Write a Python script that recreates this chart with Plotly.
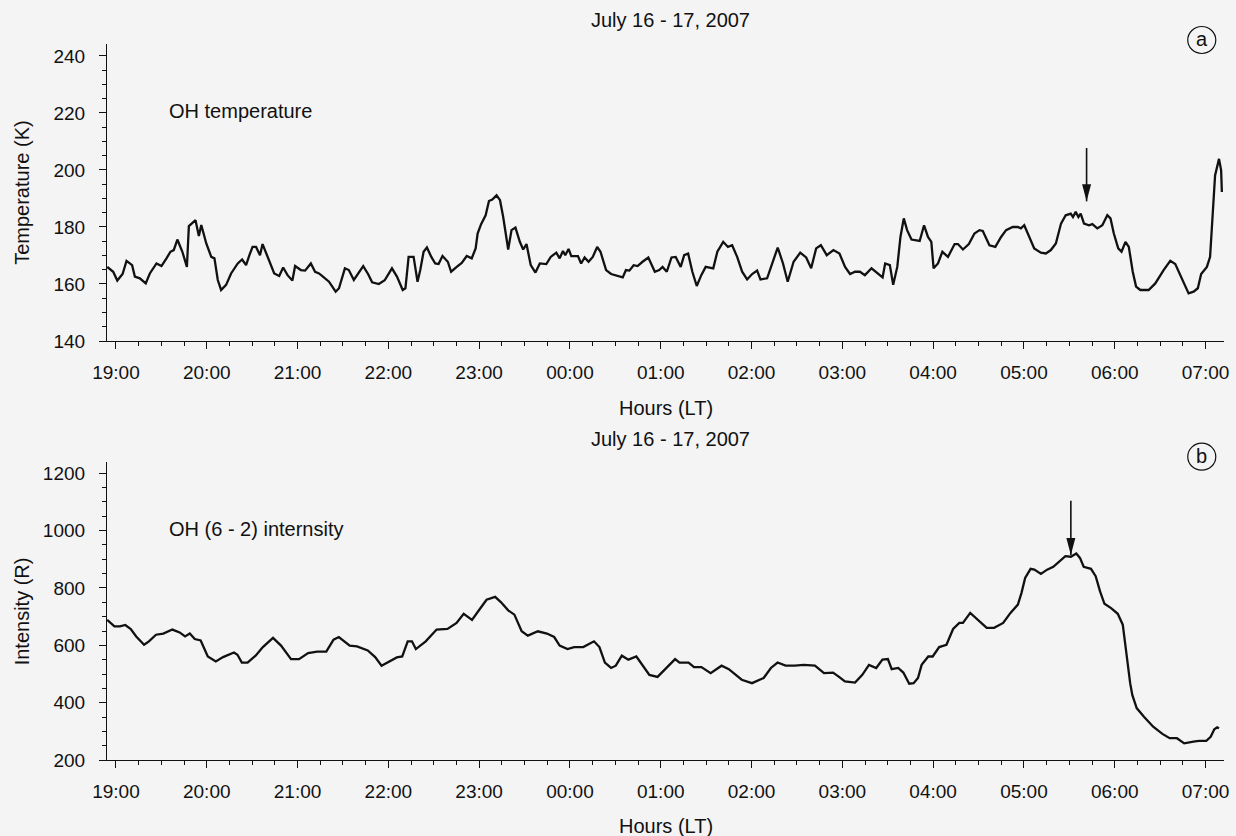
import pandas as pd
import plotly.graph_objects as go

# time axis: minutes after 19:00 LT on July 16, 2007
start = pd.Timestamp("2007-07-16 19:00")

# (a) OH rotational temperature, K
temp_minutes = [
    -5.7, -1.8, 0.9, 4.4, 7.0, 10.7, 12.5, 15.8, 19.7, 22.4, 26.8, 30.1, 33.4, 36.0, 38.2,
    40.6, 43.9, 46.9, 48.2, 52.6, 54.8, 56.4, 59.7, 63.0, 65.1, 67.3, 69.5, 72.8, 76.1, 80.5,
    83.4, 86.0, 88.2, 90.3, 92.6, 95.2, 96.9, 100.2, 104.6, 107.9, 110.5, 113.4, 116.6, 118.4,
    122.2, 125.0, 128.8, 131.6, 134.2, 136.8, 140.8, 145.2, 147.4, 151.3, 153.9, 157.2, 159.4,
    163.4, 166.6, 169.3, 173.7, 177.6, 182.4, 185.7, 189.5, 191.3, 193.4, 196.7, 199.3, 201.1,
    203.3, 205.5, 208.4, 211.0, 213.2, 215.8, 219.3, 221.5, 225.2, 228.5, 231.8, 235.1, 237.7,
    239.0, 241.3, 244.3, 246.5, 248.7, 251.5, 253.8, 255.9, 259.2, 261.4, 264.0, 266.9, 269.1,
    271.3, 274.1, 277.2, 280.1, 284.4, 287.3, 291.0, 293.2, 295.4, 296.9, 299.1, 300.9, 305.3,
    307.4, 309.7, 312.3, 315.1, 318.0, 320.2, 323.9, 327.2, 331.6, 334.9, 337.0, 339.3, 342.1,
    344.7, 348.0, 351.8, 356.1, 359.0, 361.2, 364.0, 367.1, 369.9, 373.2, 375.5, 378.1, 380.9,
    383.8, 386.8, 389.7, 394.7, 397.4, 401.3, 404.4, 407.2, 410.5, 413.8, 417.1, 420.4, 423.7,
    425.9, 430.3, 433.6, 437.3, 440.8, 443.9, 447.8, 452.2, 456.1, 459.4, 462.7, 465.8, 469.7,
    474.1, 478.1, 481.8, 485.1, 488.4, 491.6, 494.9, 499.3, 503.7, 506.6, 508.3, 511.4, 513.6,
    516.3, 518.4, 520.6, 522.8, 525.7, 531.1, 534.0, 536.6, 538.8, 540.3, 543.2, 546.1, 549.8,
    554.2, 556.4, 559.7, 563.6, 567.3, 570.6, 572.8, 577.2, 581.1, 584.9, 588.2, 592.6, 595.9,
    598.0, 600.2, 603.5, 606.8, 611.2, 614.5, 617.8, 621.1, 624.5, 627.6, 630.9, 632.4, 634.2,
    636.0, 637.5, 639.7, 643.0, 645.2, 648.5, 651.8, 655.1, 657.2, 659.4, 662.3, 664.5, 667.1,
    669.3, 671.9, 674.1, 676.9, 682.4, 686.8, 692.3, 696.7, 700.0, 703.9, 708.8, 712.1, 714.9,
    717.1, 720.9, 723.0, 724.8, 726.3, 728.9, 730.3, 730.8,
]
temp_values = [
    166.0, 164.3, 161.2, 163.5, 168.1, 166.6, 162.6, 162.0, 160.2, 163.7, 167.2, 166.3, 169.0,
    171.3, 171.9, 175.6, 171.3, 166.0, 180.3, 182.4, 176.8, 180.7, 174.2, 169.5, 169.0, 161.4,
    157.9, 159.7, 163.7, 167.2, 168.6, 166.6, 170.1, 173.0, 173.0, 170.1, 174.0, 169.5, 163.7,
    162.8, 165.8, 163.1, 161.2, 166.3, 164.9, 164.7, 167.2, 164.3, 163.7, 162.6, 160.8, 157.3,
    158.5, 165.5, 164.9, 161.4, 163.1, 166.3, 163.5, 160.6, 160.0, 161.3, 165.5, 162.6, 157.9,
    158.5, 169.5, 169.5, 160.8, 164.9, 171.3, 172.8, 169.5, 167.2, 167.0, 169.8, 167.8, 164.3,
    166.0, 167.4, 169.8, 169.0, 172.5, 177.7, 181.0, 184.1, 189.1, 189.6, 191.1, 189.4, 183.5,
    172.1, 178.9, 179.8, 174.8, 172.1, 174.0, 166.6, 164.0, 167.2, 167.0, 169.5, 171.0, 169.0,
    171.6, 170.1, 172.3, 169.8, 169.8, 167.2, 169.3, 167.8, 169.5, 173.0, 171.3, 164.9, 163.5,
    162.8, 162.3, 164.9, 164.7, 166.6, 166.3, 167.8, 169.3, 164.3, 164.9, 166.0, 164.3, 169.3,
    169.5, 166.0, 170.1, 170.7, 164.3, 159.3, 163.1, 166.0, 165.5, 171.3, 174.8, 173.0, 173.6,
    169.5, 164.3, 161.6, 163.5, 164.7, 161.6, 162.0, 167.2, 172.8, 167.2, 160.8, 167.8, 171.0,
    169.3, 165.5, 172.5, 173.6, 170.1, 171.9, 170.7, 166.0, 163.5, 164.3, 164.3, 163.1, 165.5,
    163.5, 162.3, 167.2, 166.6, 159.7, 166.0, 176.5, 183.0, 178.9, 175.6, 175.1, 180.6, 176.5,
    174.8, 165.5, 167.2, 171.3, 169.5, 174.0, 174.0, 172.1, 174.0, 177.7, 178.9, 178.6, 173.6,
    173.0, 176.5, 178.9, 180.0, 180.0, 179.5, 180.6, 176.5, 172.5, 171.0, 170.7, 171.9, 174.2,
    181.2, 184.1, 184.7, 183.5, 185.3, 183.5, 184.7, 181.2, 180.6, 181.0, 179.5, 180.6, 184.1,
    183.0, 177.7, 172.5, 171.3, 174.8, 173.0, 164.3, 159.1, 157.9, 157.9, 160.2, 164.9, 168.1,
    167.0, 162.6, 156.7, 157.3, 158.5, 163.5, 166.0, 169.5, 183.5, 198.1, 203.9, 199.9, 192.3,
]

# (b) OH (6-2) band intensity, Rayleigh
int_minutes = [
    -5.8, -1.0, 2.6, 6.2, 9.8, 13.4, 18.6, 21.8, 26.5, 31.3, 37.3, 42.1, 45.7, 48.8, 52.1,
    56.0, 60.7, 66.0, 70.8, 78.0, 80.3, 83.2, 87.0, 92.3, 97.1, 103.8, 109.1, 115.7, 121.0,
    127.0, 133.0, 139.0, 143.8, 147.3, 154.5, 159.3, 166.4, 171.3, 175.5, 180.8, 185.6, 189.2,
    192.8, 195.6, 198.2, 204.7, 211.9, 219.1, 225.1, 229.8, 235.3, 240.1, 244.9, 250.6, 254.5,
    259.2, 263.3, 268.1, 272.2, 278.8, 284.8, 289.6, 293.2, 298.4, 302.8, 308.8, 315.9, 319.5,
    323.1, 327.2, 330.3, 334.3, 338.6, 343.9, 348.2, 352.5, 357.9, 364.0, 369.5, 372.4, 378.4,
    382.0, 386.9, 393.0, 400.2, 405.0, 413.5, 420.3, 428.0, 432.8, 437.2, 442.5, 448.6, 454.6,
    461.9, 467.9, 473.9, 477.6, 481.7, 488.4, 493.2, 497.6, 502.4, 506.5, 510.1, 512.6, 516.9,
    520.3, 524.2, 527.1, 530.0, 532.4, 536.8, 539.7, 544.0, 548.8, 553.2, 557.3, 559.7, 564.5,
    569.4, 575.4, 580.3, 586.3, 591.1, 596.0, 598.4, 600.8, 604.4, 606.9, 611.2, 615.3, 619.4,
    623.8, 627.4, 631.0, 634.6, 637.0, 639.5, 644.3, 647.4, 650.3, 653.2, 657.6, 662.0, 665.3,
    667.8, 670.2, 671.6, 674.5, 679.3, 685.4, 691.5, 696.3, 701.1, 705.9, 712.0, 715.6, 720.5,
    723.4, 725.8, 727.7, 728.9,
]
int_values = [
    689, 666, 666, 671, 657, 631, 602, 614, 637, 641, 655, 645, 631, 641, 622, 617, 561, 544,
    559, 575, 567, 540, 540, 564, 594, 626, 599, 552, 552, 573, 578, 578, 620, 629, 599, 596,
    582, 559, 529, 544, 558, 561, 614, 614, 587, 614, 655, 657, 678, 710, 689, 724, 759, 769,
    750, 722, 707, 649, 634, 649, 641, 629, 599, 587, 594, 594, 614, 594, 540, 521, 529, 564,
    550, 561, 529, 497, 490, 521, 552, 540, 540, 524, 524, 503, 529, 517, 480, 468, 486, 521,
    540, 529, 529, 532, 529, 503, 505, 491, 474, 470, 497, 532, 521, 550, 552, 517, 521, 505,
    466, 468, 486, 532, 561, 561, 594, 602, 657, 678, 678, 713, 689, 661, 661, 678, 713, 742,
    783, 835, 867, 864, 849, 864, 874, 893, 911, 909, 920, 905, 874, 867, 841, 788, 745, 730,
    710, 672, 561, 468, 427, 381, 351, 316, 291, 276, 276, 258, 264, 267, 267, 281, 307, 314,
    311,
]

# arrows marking the event (panel a, panel b)
arrow_minutes = [641.4, 631.0]
arrow_tips = [189.0, 915.0]
arrow_tops = [207.7, 1104.0]

panel_letters = ["a", "b"]
panel_labels = ["OH temperature", "OH (6 - 2) internsity"]
y_titles = ["Temperature (K)", "Intensity (R)"]
date_title = "July 16 - 17, 2007"


def to_time(minutes):
    return start + pd.to_timedelta(minutes, unit="min")


FONT = "Liberation Sans, Arial, Helvetica, sans-serif"
INK = "#111111"
BG = "#f4f4f4"

fig = go.Figure()
fig.add_trace(go.Scatter(x=to_time(temp_minutes), y=temp_values, mode="lines",
                         line=dict(color=INK, width=2.3), xaxis="x", yaxis="y",
                         showlegend=False))
fig.add_trace(go.Scatter(x=to_time(int_minutes), y=int_values, mode="lines",
                         line=dict(color=INK, width=2.3), xaxis="x2", yaxis="y2",
                         showlegend=False))

x_range = [to_time(-5.9), to_time(732.2)]
xcommon = dict(
    type="date", range=x_range, tick0=start, dtick=3600000, tickformat="%H:%M",
    ticks="outside", ticklen=7, tickwidth=1.2, tickcolor=INK,
    showline=True, linecolor=INK, linewidth=1.2, showgrid=False, zeroline=False,
    tickfont=dict(size=19, color=INK), ticklabelstandoff=7,
    minor=dict(dtick=900000, ticks="outside", ticklen=4, tickwidth=1, tickcolor=INK,
               showgrid=False),
)
ycommon = dict(
    ticks="outside", ticklen=7, tickwidth=1.2, tickcolor=INK,
    showline=True, linecolor=INK, linewidth=1.2, showgrid=False, zeroline=False,
    tickfont=dict(size=19, color=INK), ticklabelstandoff=10,
)

fig.update_layout(
    width=1236, height=836,
    margin=dict(l=107, r=7, t=44, b=76),
    paper_bgcolor=BG, plot_bgcolor="rgba(0,0,0,0)",
    font=dict(family=FONT, color=INK, size=19),
    xaxis=dict(domain=[0, 1], anchor="y", **xcommon),
    xaxis2=dict(domain=[0, 1], anchor="y2", **xcommon),
    yaxis=dict(domain=[0.5852, 1], anchor="x", range=[140, 244.2], tick0=140, dtick=20,
               minor=dict(dtick=5, ticks="outside", ticklen=4, tickwidth=1, tickcolor=INK),
               **ycommon),
    yaxis2=dict(domain=[0, 0.4162], anchor="x2", range=[200, 1239.5], tick0=200, dtick=200,
                minor=dict(dtick=50, ticks="outside", ticklen=4, tickwidth=1, tickcolor=INK),
                **ycommon),
)

annotations = []
shapes = []
label_y = [220.7, 1006.0]
title_y = [1.081, 1.077]
hours_y = [-0.226, -0.222]
circle_y = [1.0056, 0.4236]
for i, (xr, yr) in enumerate([("x", "y"), ("x2", "y2")]):
    annotations += [
        dict(text=date_title, xref=f"{xr} domain", yref=f"{yr} domain", x=0.5045, y=title_y[i],
             xanchor="center", yanchor="middle", showarrow=False, font=dict(size=20)),
        dict(text="Hours (LT)", xref=f"{xr} domain", yref=f"{yr} domain", x=0.5, y=hours_y[i],
             xanchor="center", yanchor="middle", showarrow=False, font=dict(size=20)),
        dict(text=y_titles[i], xref="paper", yref=f"{yr} domain", x=-0.0758, y=0.5,
             xanchor="center", yanchor="middle", textangle=-90, showarrow=False,
             font=dict(size=20)),
        dict(text=panel_labels[i], xref=f"{xr} domain", yref=yr, x=0.0535, y=label_y[i],
             xanchor="left", yanchor="middle", showarrow=False, font=dict(size=20)),
        dict(text=panel_letters[i], xref="paper", yref="paper", x=0.9801, y=circle_y[i],
             xanchor="center", yanchor="middle", yshift=1, showarrow=False,
             font=dict(size=20)),
    ]
    shapes += [
        dict(type="circle", xref="paper", yref="paper", xsizemode="pixel", ysizemode="pixel",
             xanchor=0.9801, yanchor=circle_y[i], x0=-14, x1=14, y0=-13.5, y1=13.5,
             line=dict(color=INK, width=1.2)),
        dict(type="line", xref=xr, yref=yr,
             x0=to_time(arrow_minutes[i]), x1=to_time(arrow_minutes[i]),
             y0=arrow_tips[i], y1=arrow_tops[i], line=dict(color=INK, width=1.6)),
        dict(type="path", xref=xr, yref=yr, xsizemode="pixel", ysizemode="pixel",
             xanchor=to_time(arrow_minutes[i]), yanchor=arrow_tips[i],
             path="M0,0 L-4.5,17 L4.5,17 Z", fillcolor=INK, line=dict(width=0)),
    ]

fig.update_layout(annotations=annotations, shapes=shapes)

# the page body carries a default 8px margin; remove it so the figure fills the window
fig.write_html("out.html", config={"displayModeBar": False},
               post_script=f"document.body.style.margin='0';"
                           f"document.body.style.background='{BG}';")
